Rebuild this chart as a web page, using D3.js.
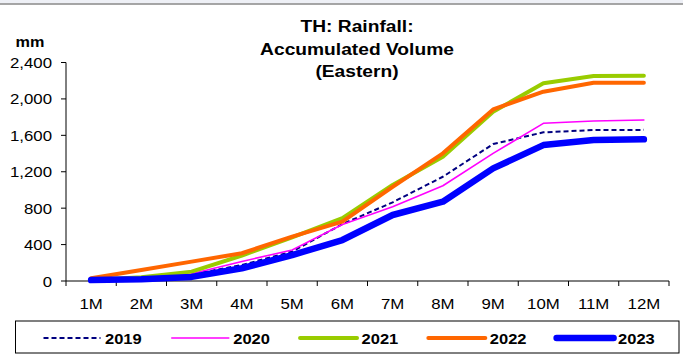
<!DOCTYPE html>
<html><head><meta charset="utf-8">
<script src="https://cdn.jsdelivr.net/npm/d3@7/dist/d3.min.js"></script>
<style>body{margin:0;background:#fff}svg{display:block;font-family:"Liberation Sans",Arial,sans-serif}</style>
</head><body><svg id="c" width="683" height="356"></svg>
<script>
const months = ["1M","2M","3M","4M","5M","6M","7M","8M","9M","10M","11M","12M"];
const yTicks = [0,400,800,1200,1600,2000,2400];
const titleLines = ["TH: Rainfall:","Accumulated Volume","(Eastern)"];
const yUnit = "mm";
const seriesNames = ["2019","2020","2021","2022","2023"];
const v2019 = [8,25,70,176,323,625,864,1145,1504,1633,1658,1660];
const v2020 = [8,25,80,215,341,620,816,1046,1402,1732,1757,1768];
const v2021 = [10,40,103,280,480,690,1054,1365,1859,2171,2251,2255];
const v2022 = [30,121,213,305,488,653,1035,1402,1885,2079,2177,2177];
const v2023 = [10,20,45,140,285,450,725,871,1237,1493,1548,1556];

const styles = {
  "2019":{color:"#000080",w:2,dash:"5,3"},
  "2020":{color:"#ff00ff",w:1.6,dash:null},
  "2021":{color:"#99cc00",w:4,dash:null},
  "2022":{color:"#ff6600",w:4,dash:null},
  "2023":{color:"#0000ff",w:6.5,dash:null}
};
const data = [v2019,v2020,v2021,v2022,v2023];

const svg = d3.select("#c");
// top frame strip
svg.append("rect").attr("x",0).attr("y",0).attr("width",683).attr("height",3.5).attr("fill","#eef0f6");
svg.append("line").attr("x1",0).attr("x2",683).attr("y1",4).attr("y2",4).attr("stroke","#888").attr("stroke-width",1.5);

const L=66,R=669,T=62.5,B=281;
const x = d3.scaleBand().domain(months).range([L,R]).padding(0);
const y = d3.scaleLinear().domain([0,2400]).range([B,T]);
const SX=1.12;

function stext(g,tx,ty,str,opts){
  const t=g.append("text").attr("transform",`translate(${tx},${ty}) scale(${opts.sx||SX},1)`)
    .attr("text-anchor",opts.anchor||"middle").attr("font-size",opts.size||15)
    .attr("font-weight",opts.bold?"bold":"normal").attr("fill","#000").text(str);
  return t;
}

// y axis
const ya = svg.append("g");
ya.append("line").attr("x1",L).attr("x2",L).attr("y1",T).attr("y2",B).attr("stroke","#000").attr("stroke-width",1);
yTicks.forEach(v=>{
  ya.append("line").attr("x1",L-5).attr("x2",L).attr("y1",y(v)).attr("y2",y(v)).attr("stroke","#000");
  stext(ya,52,y(v)+5.5,d3.format(",")(v),{anchor:"end"});
});
// x axis
const xa = svg.append("g");
xa.append("line").attr("x1",L).attr("x2",R).attr("y1",B).attr("y2",B).attr("stroke","#000");
const bounds = months.map(m=>x(m)).concat([R]);
bounds.forEach(b=>{
  xa.append("line").attr("x1",b).attr("x2",b).attr("y1",B).attr("y2",B+5).attr("stroke","#000");
});
months.forEach(m=>stext(xa,x(m)+x.bandwidth()/2,308.5,m,{}));

// lines
const line = d3.line().x((d,i)=>x(months[i])+x.bandwidth()/2).y(d=>y(d));
seriesNames.forEach((s,k)=>{
  const st=styles[s];
  svg.append("path").datum(data[k]).attr("d",line).attr("fill","none")
    .attr("stroke",st.color).attr("stroke-width",st.w)
    .attr("stroke-dasharray",st.dash).attr("stroke-linejoin","round")
    .attr("stroke-linecap",st.dash?"butt":"round");
});

// title
titleLines.forEach((t,i)=>stext(svg,357,32+i*22.5,t,{bold:true,size:17,sx:1.13}));
stext(svg,30,46.5,yUnit,{bold:true,size:14.5,sx:1.12});

// legend
svg.append("rect").attr("x",15.5).attr("y",321).attr("width",663.5).attr("height",32)
  .attr("fill","#fff").attr("stroke","#000").attr("stroke-width",1);
const lx = d3.scalePoint().domain(seriesNames).range([43.5,556.6]);
seriesNames.forEach(s=>{
  const st=styles[s], x0=lx(s);
  svg.append("line").attr("x1",x0).attr("x2",x0+57).attr("y1",338).attr("y2",338)
    .attr("stroke",st.color).attr("stroke-width",st.w).attr("stroke-dasharray",st.dash)
    .attr("stroke-linecap",st.dash?"butt":"round");
  stext(svg,x0+61.5,344,s,{anchor:"start",bold:true,size:15,sx:1.1});
});
</script></body></html>
